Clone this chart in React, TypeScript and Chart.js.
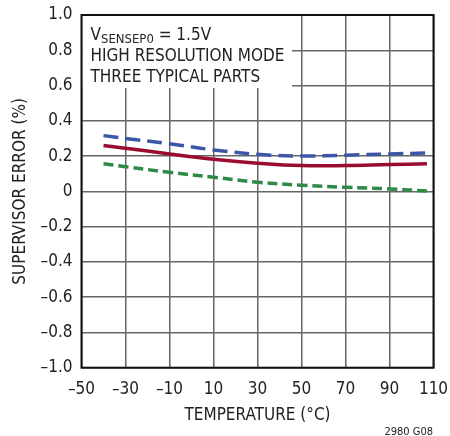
import React, { useEffect, useRef } from "react";
import { Chart, registerables } from "chart.js";

Chart.register(...registerables);

const temps = [-40, -30, -10, 10, 30, 50, 70, 90, 107];
const partA = [0.316, 0.3, 0.27, 0.235, 0.21, 0.2, 0.205, 0.212, 0.218];
const partB = [0.26, 0.245, 0.212, 0.182, 0.16, 0.146, 0.146, 0.152, 0.156];
const partC = [0.157, 0.14, 0.108, 0.08, 0.052, 0.035, 0.023, 0.014, 0.002];
const xTicks = [-50, -30, -10, 10, 30, 50, 70, 90, 110];
const yTicks = [-1.0, -0.8, -0.6, -0.4, -0.2, 0, 0.2, 0.4, 0.6, 0.8, 1.0];
const yTickLabels = ["–1.0", "–0.8", "–0.6", "–0.4", "–0.2", "0", "0.2", "0.4", "0.6", "0.8", "1.0"];
const xTickLabels = ["–50", "–30", "–10", "10", "30", "50", "70", "90", "110"];

const FONT = "'Liberation Sans Narrow', 'DejaVu Sans Condensed', 'Liberation Sans', sans-serif";

const toPts = (ys: number[]) => ys.map((y, i) => ({ x: temps[i], y }));

const overlay = {
  id: "overlay",
  beforeDatasetsDraw(chart: any) {
    const { ctx, chartArea } = chart;
    ctx.save();
    ctx.fillStyle = "#fff";
    ctx.fillRect(chartArea.left + 1, chartArea.top + 1, 291 - chartArea.left, 87 - chartArea.top);
    ctx.fillStyle = "#222";
    ctx.textBaseline = "alphabetic";
    ctx.textAlign = "left";
    ctx.font = `17px ${FONT}`;
    ctx.fillText("V", 90.5, 39.5);
    const vw = ctx.measureText("V").width;
    ctx.font = `13px ${FONT}`;
    ctx.fillText("SENSEP0", 90.5 + vw, 43);
    const sw = ctx.measureText("SENSEP0").width;
    ctx.font = `17px ${FONT}`;
    ctx.fillText(" = 1.5V", 90.5 + vw + sw, 39.5);
    ctx.fillText("HIGH RESOLUTION MODE", 90.5, 60.5);
    ctx.fillText("THREE TYPICAL PARTS", 90.5, 81.5);
    ctx.restore();
  },
  afterDraw(chart: any) {
    const { ctx, chartArea } = chart;
    ctx.save();
    ctx.strokeStyle = "#111";
    ctx.lineWidth = 2;
    ctx.strokeRect(chartArea.left, chartArea.top, chartArea.right - chartArea.left, chartArea.bottom - chartArea.top);
    ctx.fillStyle = "#222";
    ctx.font = `11px ${FONT}`;
    ctx.textAlign = "right";
    ctx.textBaseline = "middle";
    ctx.fillText("2980 G08", 433, 432);
    ctx.restore();
  },
};

export default function App() {
  const ref = useRef<HTMLCanvasElement>(null);
  useEffect(() => {
    if (!ref.current) return;
    const chart = new Chart(ref.current, {
      type: "line",
      data: {
        datasets: [
          { data: toPts(partA), borderColor: "#3d57a8", borderWidth: 3.5, borderDash: [15, 7], pointRadius: 0, tension: 0.4, fill: false },
          { data: toPts(partB), borderColor: "#9c0b30", borderWidth: 3.5, pointRadius: 0, tension: 0.4, fill: false },
          { data: toPts(partC), borderColor: "#2f8a48", borderWidth: 3.5, borderDash: [10, 5], pointRadius: 0, tension: 0.4, fill: false },
        ],
      },
      plugins: [overlay],
      options: {
        animation: false,
        responsive: false,
        maintainAspectRatio: false,
        layout: { padding: { left: 0, right: 16.5, top: 15, bottom: 10.3 } },
        plugins: { legend: { display: false }, tooltip: { enabled: false } },
        scales: {
          x: {
            type: "linear",
            min: -50,
            max: 110,
            afterFit: (s: any) => { s.height = 58; s.paddingLeft = 0; s.paddingRight = 0; },
            afterBuildTicks: (s: any) => { s.ticks = xTicks.map((v) => ({ value: v })); },
            ticks: {
              padding: 12,
              color: "#222",
              font: { family: FONT, size: 17 },
              maxRotation: 0,
              autoSkip: false,
              callback: (v: any) => xTickLabels[xTicks.indexOf(Number(v))] ?? "",
            },
            grid: { color: "#666", lineWidth: 1.5, drawTicks: false },
            border: { display: false },
            title: { display: true, text: "TEMPERATURE (°C)", color: "#222", font: { family: FONT, size: 17, lineHeight: 1.2 }, padding: { top: 0, bottom: 0 } },
          },
          y: {
            type: "linear",
            min: -1,
            max: 1,
            afterFit: (s: any) => { s.width = 81.5; s.paddingTop = 0; s.paddingBottom = 0; },
            afterBuildTicks: (s: any) => { s.ticks = yTicks.map((v) => ({ value: v })); },
            ticks: {
              padding: 9,
              color: "#222",
              font: { family: FONT, size: 17 },
              autoSkip: false,
              callback: (v: any) => {
                const i = yTicks.findIndex((t) => Math.abs(t - Number(v)) < 1e-6);
                return i >= 0 ? yTickLabels[i] : "";
              },
            },
            grid: { color: "#666", lineWidth: 1.5, drawTicks: false },
            border: { display: false },
            title: { display: true, text: "SUPERVISOR ERROR (%)", color: "#222", font: { family: FONT, size: 17, lineHeight: 1.2 }, padding: { top: 10, bottom: 0 } },
          },
        },
      },
    });
    return () => chart.destroy();
  }, []);
  return (
    <div style={{ position: "absolute", left: 0, top: 0, width: 450, height: 436, background: "#fff" }}>
      <canvas ref={ref} width={450} height={436} style={{ width: 450, height: 436, display: "block" }} />
    </div>
  );
}
